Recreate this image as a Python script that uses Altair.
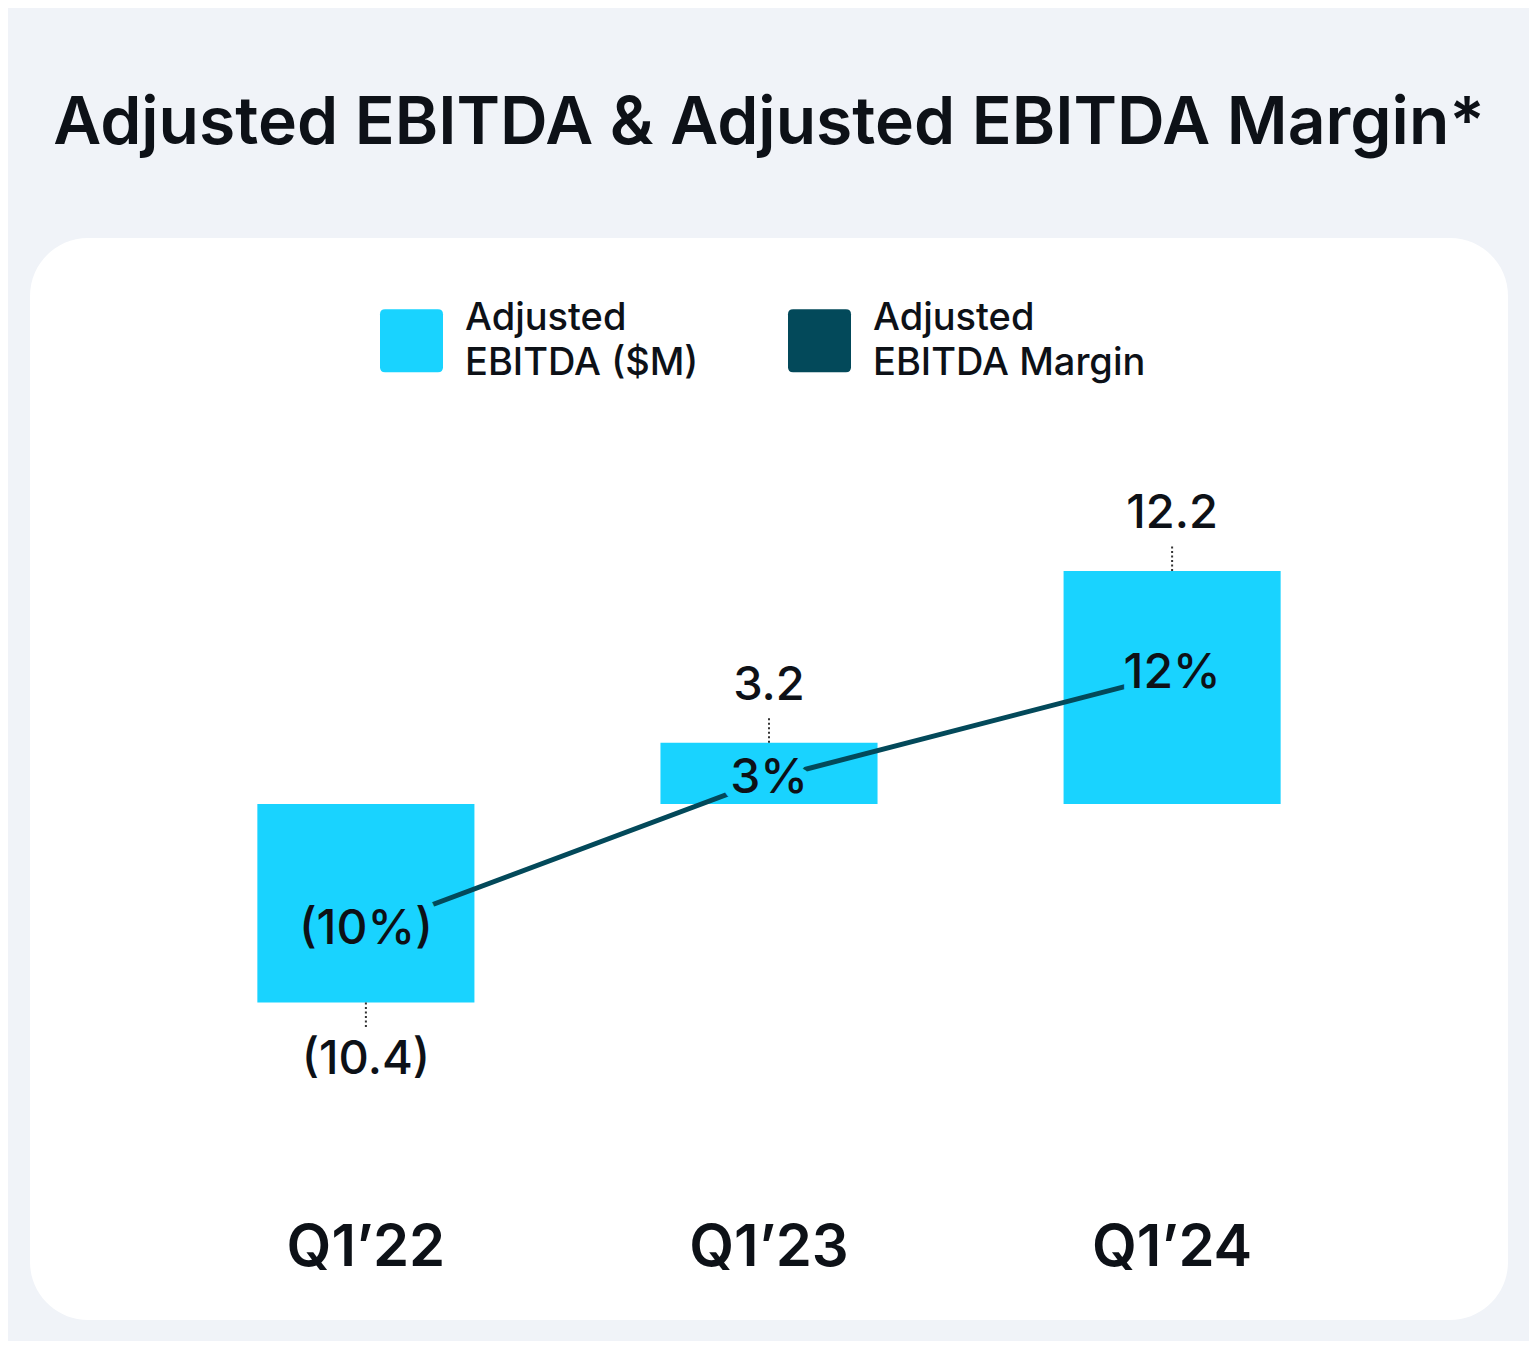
import altair as alt
import pandas as pd

# ---- data ----
quarters = ["Q1’22", "Q1’23", "Q1’24"]
ebitda = [-10.4, 3.2, 12.2]          # Adjusted EBITDA ($M)
margin = [-10, 3, 12]                # Adjusted EBITDA Margin (%)
series_names = ["Adjusted|EBITDA ($M)", "Adjusted|EBITDA Margin"]

# ---- styles ----
BAR = "#19D3FF"
LINE = "#03495A"
TXT = "#0D1117"
FONT = "Inter"

df = pd.DataFrame({"q": quarters, "v": ebitda, "m": margin, "s": series_names[0]})

x = alt.X(
    "q:N", sort=quarters, title=None,
    scale=alt.Scale(paddingInner=0.4615, paddingOuter=0.564),
    axis=alt.Axis(domain=False, ticks=False, tickSize=0, grid=False, labelAngle=0,
                  labelFont=FONT, labelFontSize=58, labelFontWeight=600, labelColor=TXT,
                  labelPadding=-55, labelBaseline="alphabetic"),
)
yv = alt.Y("v:Q", scale=alt.Scale(domain=[-27.02, 29.63], nice=False, zero=False), axis=None)
ym = alt.Y("m:Q", scale=alt.Scale(domain=[-43.66, 49.61], nice=False, zero=False), axis=None)

rounded = ("M-0.84,-1H0.84Q1,-1,1,-0.84V0.84Q1,1,0.84,1H-0.84Q-1,1,-1,0.84"
           "V-0.84Q-1,-1,-0.84,-1Z")

base = alt.Chart(df)

bars = base.mark_bar().encode(
    x=x, y=yv, y2=alt.datum(0),
    color=alt.Color(
        "s:N",
        scale=alt.Scale(domain=series_names, range=[BAR, LINE]),
        legend=alt.Legend(
            title=None, orient="none", legendX=350, legendY=71, direction="horizontal",
            symbolType=rounded, symbolSize=3969, symbolStrokeWidth=0, symbolOpacity=1,
            labelFont=FONT, labelFontSize=38, labelFontWeight=500, labelColor=TXT,
            labelLimit=600, labelOffset=22, columnPadding=89, padding=0,
            labelBaseline="line-bottom", labelExpr="split(datum.label, '|')",
        ),
    ),
)

rules = base.transform_calculate(
    e="datum.v + (datum.v < 0 ? -1.4 : 1.4)"
).mark_rule(color="#333333", strokeDash=[2, 2.5], strokeWidth=2).encode(
    x=x, y=yv, y2=alt.Y2("e:Q")
)

pos_text = base.transform_filter("datum.v >= 0").transform_calculate(
    t="format(datum.v, '.1f')"
).mark_text(dy=-57, font=FONT, fontSize=47, fontWeight=500, color=TXT, baseline="middle").encode(
    x=x, y=yv, text="t:N"
)

neg_text = base.transform_filter("datum.v < 0").transform_calculate(
    t="'(' + format(-datum.v, '.1f') + ')'"
).mark_text(dy=57, font=FONT, fontSize=47, fontWeight=500, color=TXT, baseline="middle").encode(
    x=x, y=yv, text="t:N"
)

line = base.mark_line(color=LINE, strokeWidth=5, strokeCap="round").encode(x=x, y=ym)

mcalc = "datum.m < 0 ? '(' + format(-datum.m, 'd') + '%)' : format(datum.m, 'd') + '%'"

halo = base.transform_calculate(mt=mcalc).mark_text(
    font=FONT, fontSize=48, fontWeight=500, fill=BAR, stroke=BAR, strokeWidth=20,
    strokeJoin="round", baseline="middle",
).encode(x=x, y=ym, text="mt:N")

mtext = base.transform_calculate(mt=mcalc).mark_text(
    font=FONT, fontSize=48, fontWeight=500, color=TXT, baseline="middle",
).encode(x=x, y=ym, text="mt:N")

chart = alt.layer(bars, rules, pos_text, neg_text, line, halo, mtext).resolve_scale(
    y="independent"
).properties(
    width=1478, height=1082,
    title=alt.Title(text="Adjusted EBITDA & Adjusted EBITDA Margin*", font=FONT, fontSize=66,
                    fontWeight=600, color=TXT, anchor="middle", baseline="alphabetic", offset=28),
    autosize=alt.AutoSizeParams(type="none"),
    padding={"left": 22, "top": 230, "right": 21, "bottom": 21},
    background="#F0F3F8",
).configure(
    view=alt.ViewConfig(fill="white", strokeWidth=0, cornerRadius=58),
    style={"guide-label": {"lineHeight": 45}},
)

chart.save("out.html", embed_options={"renderer": "svg", "actions": False})
